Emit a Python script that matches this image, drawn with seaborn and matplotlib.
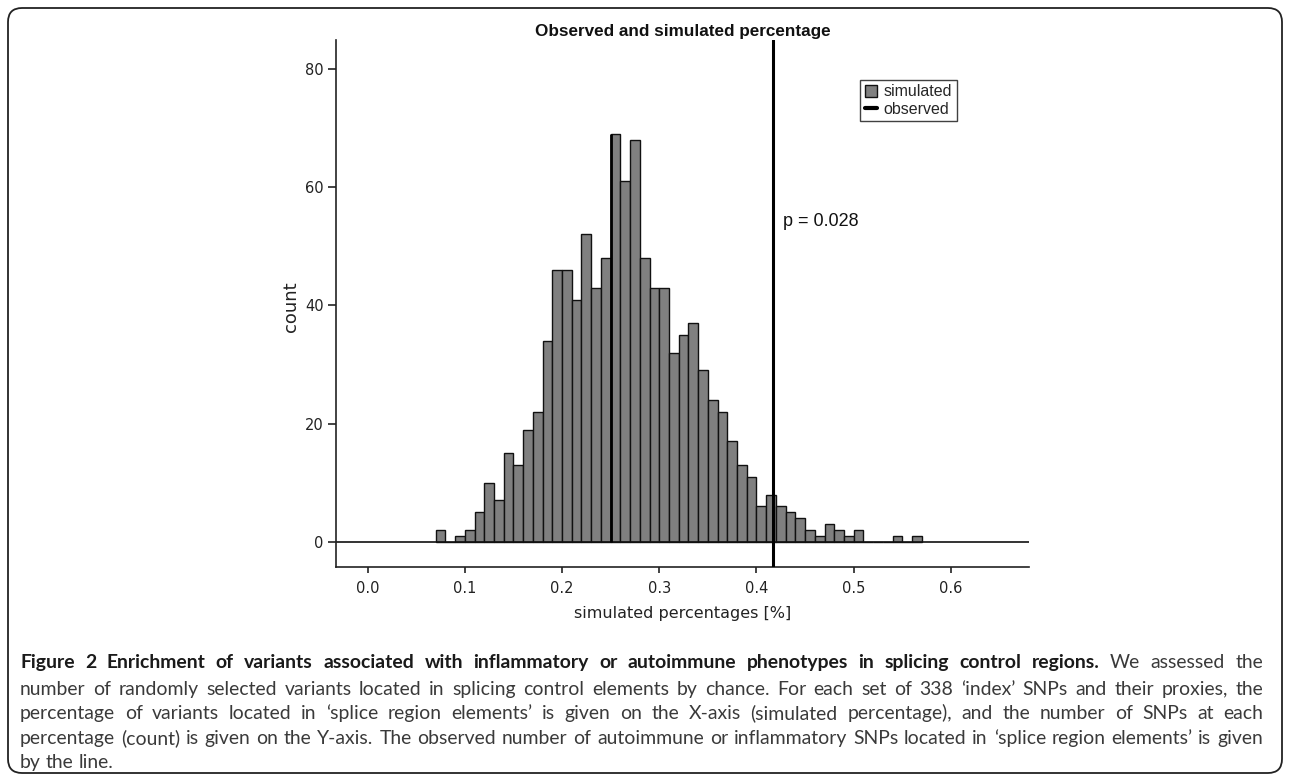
import numpy as np
import pandas as pd
import matplotlib
matplotlib.use("Agg")
import matplotlib.pyplot as plt
import seaborn as sns
from matplotlib.patches import FancyBboxPatch, Patch
from matplotlib.lines import Line2D
from matplotlib.transforms import IdentityTransform

# ---------------- data ----------------
bin_left = [0.07, 0.08, 0.09, 0.10, 0.11, 0.12, 0.13, 0.14, 0.15, 0.16,
            0.17, 0.18, 0.19, 0.20, 0.21, 0.22, 0.23, 0.24, 0.25, 0.26,
            0.27, 0.28, 0.29, 0.30, 0.31, 0.32, 0.33, 0.34, 0.35, 0.36,
            0.37, 0.38, 0.39, 0.40, 0.41, 0.42, 0.43, 0.44, 0.45, 0.46,
            0.47, 0.48, 0.49, 0.50, 0.51, 0.52, 0.53, 0.54, 0.55, 0.56]
counts = [2, 0, 1, 2, 5, 10, 7, 15, 13, 19,
          22, 34, 46, 46, 41, 52, 43, 48, 69, 61,
          68, 48, 43, 43, 32, 35, 37, 29, 24, 22,
          17, 13, 11, 6, 8, 6, 5, 4, 2, 1,
          3, 2, 1, 2, 0, 0, 0, 1, 0, 1]
bin_width = 0.01
observed = 0.417
marked_edge = 0.25
p_label = "p = 0.028"
x_ticks = [0.0, 0.1, 0.2, 0.3, 0.4, 0.5, 0.6]
y_ticks = [0, 20, 40, 60, 80]
title = "Observed and simulated percentage"
x_label = "simulated percentages [%]"
y_label = "count"
legend_labels = ["simulated", "observed"]

caption_bold = ("Figure 2 Enrichment of variants associated with inflammatory "
                "or autoimmune phenotypes in splicing control regions.")
caption_lines = [
    [(caption_bold, "bold"), ("We assessed the", "normal")],
    [("number of randomly selected variants located in splicing control elements by chance. "
      "For each set of 338 \u2018index\u2019 SNPs and their proxies, the", "normal")],
    [("percentage of variants located in \u2018splice region elements\u2019 is given on the X-axis "
      "(simulated percentage), and the number of SNPs at each", "normal")],
    [("percentage (count) is given on the Y-axis. The observed number of autoimmune or "
      "inflammatory SNPs located in \u2018splice region elements\u2019 is given", "normal")],
    [("by the line.", "normal")],
]

df = pd.DataFrame({"pct": np.array(bin_left) + bin_width / 2, "count": counts})

# ---------------- style ----------------
sns.set_style("ticks")
plt.rcParams["font.family"] = ["DejaVu Sans"]
arial = ["Liberation Sans", "DejaVu Sans"]

W, H = 1290, 775
fig = plt.figure(figsize=(W / 100, H / 100), dpi=100)
ax = fig.add_axes([336 / W, 1 - 566.7 / H, (1029 - 336) / W, (566.7 - 40) / H])

sns.histplot(data=df, x="pct", weights="count", binwidth=bin_width,
             binrange=(bin_left[0], bin_left[-1] + bin_width), stat="count",
             color="#808080", edgecolor="#111111", linewidth=1.0, alpha=1.0, ax=ax)

ax.axhline(0, color="#111111", lw=1.2, zorder=1)
ax.axvline(observed, color="black", lw=2.2, zorder=4)
idx = int(round((marked_edge - bin_left[0]) / bin_width))
ax.vlines(marked_edge, 0, counts[idx], color="black", lw=2.0, zorder=4)

ax.set_xlim(-0.0325, 0.6803)
ax.set_ylim(-4.2, 84.9)
ax.set_xticks(x_ticks)
ax.set_xticklabels([f"{v:.1f}" for v in x_ticks])
ax.set_yticks(y_ticks)
ax.tick_params(axis="both", labelsize=10.5, colors="#222222", length=6, width=1.2, pad=3)
ax.tick_params(axis="x", length=4, pad=6)
for s in ["top", "right"]:
    ax.spines[s].set_visible(False)
for s in ["left", "bottom"]:
    ax.spines[s].set_color("#222222")
    ax.spines[s].set_linewidth(1.2)

ax.set_xlabel(x_label, fontsize=11.5, color="#222222")
ax.set_ylabel(y_label, fontsize=13, color="#222222")
ax.xaxis.set_label_coords(0.5, -0.074)
ax.yaxis.set_label_coords(-0.052, 0.494)
ax.set_title(title, fontsize=12.3, color="#111111", pad=3, fontweight="bold",
             family=arial)

ax.text(0.427, 54.2, p_label, fontsize=13, color="#111111", va="center", ha="left",
        family=arial)

handles = [Patch(facecolor="#808080", edgecolor="#111111", linewidth=1.0),
           Line2D([0], [0], color="black", lw=3)]
leg = ax.legend(handles, legend_labels, loc="upper left", bbox_to_anchor=(0.756, 0.925),
                prop={"family": arial, "size": 11.5}, frameon=True, fancybox=False,
                handlelength=0.8, handleheight=0.8, handletextpad=0.4, borderpad=0.3,
                labelspacing=0.15, borderaxespad=0)
leg.get_frame().set_edgecolor("#111111")
leg.get_frame().set_linewidth(1.0)

# ---------------- frame ----------------
box = FancyBboxPatch((8, 2), 1274, 765, boxstyle="round,pad=0,rounding_size=14",
                     transform=IdentityTransform(), facecolor="none",
                     edgecolor="#222222", linewidth=1.3)
fig.patches.append(box)

# ---------------- caption (justified) ----------------
cap_family = ["Lato", "DejaVu Sans"]
renderer = fig.canvas.get_renderer()


def word_width(word, weight, size):
    t = fig.text(0, 0, word, fontsize=size, fontweight=weight, family=cap_family,
                 transform=IdentityTransform())
    w = t.get_window_extent(renderer).width
    t.remove()
    return w


x0, x1 = 20, 1263
size = 12.0
naturals = [sum(word_width(t, wt, size) for t, wt in segs) for segs in caption_lines[:-1]]
size = size * (x1 - x0) / max(naturals) * 0.985

line_base = [668, 695, 719, 744, 768]
for li, segs in enumerate(caption_lines):
    words = []
    for text, weight in segs:
        for w in text.split(" "):
            words.append((w, weight))
    widths = [word_width(w, wt, size) for w, wt in words]
    if li < len(caption_lines) - 1:
        gap = (x1 - x0 - sum(widths)) / (len(words) - 1)
    else:
        gap = word_width("a b", "normal", size) - word_width("ab", "normal", size)
    x = x0
    for (w, wt), ww in zip(words, widths):
        fig.text(x, H - line_base[li], w, fontsize=size, fontweight=wt, family=cap_family,
                 color="#1a1a1a" if wt == "bold" else "#3a3a3a", va="baseline", ha="left",
                 transform=IdentityTransform())
        x += ww + gap

fig.savefig("out.png", dpi=100)
